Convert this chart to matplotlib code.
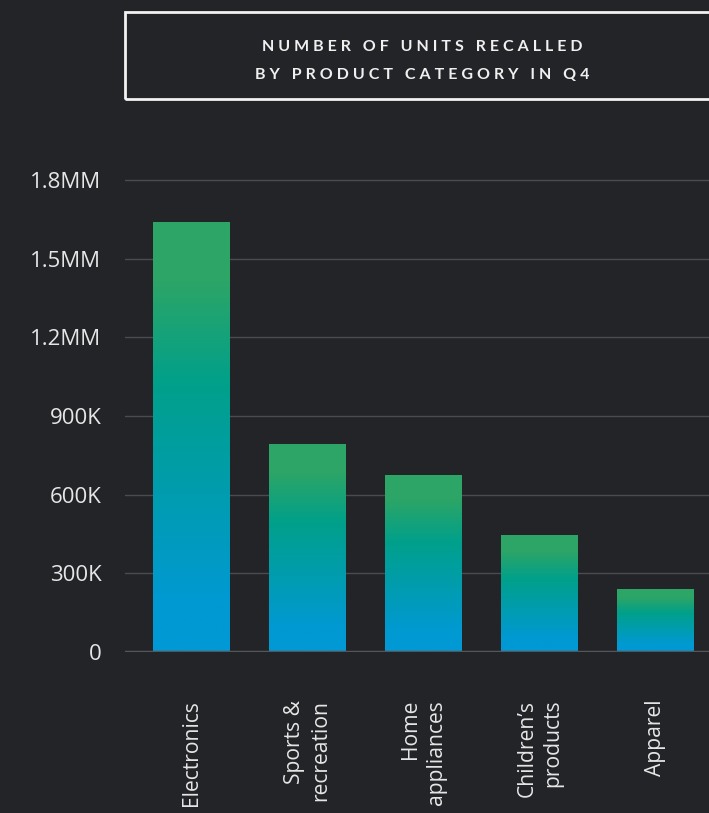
import numpy as np
import matplotlib
matplotlib.use("Agg")
import matplotlib.pyplot as plt
from matplotlib.colors import LinearSegmentedColormap
from matplotlib.patches import Rectangle
from matplotlib.ticker import FixedLocator

# units recalled per category, Q4
categories = ["Electronics", "Sports &\nrecreation", "Home\nappliances",
              "Children\u2019s\nproducts", "Apparel"]
units = [1640000, 793000, 675000, 446000, 240000]

yticks = [0, 300000, 600000, 900000, 1200000, 1500000, 1800000]
ytick_labels = ["0", "300K", "600K", "900K", "1.2MM", "1.5MM", "1.8MM"]

title_lines = ["NUMBER OF UNITS RECALLED", "BY PRODUCT CATEGORY IN Q4"]

bg = "#232428"
grid_col = "#4b4c50"
text_col = "#e6e6e6"

grad = LinearSegmentedColormap.from_list(
    "recall", [(0.0, "#0099d6"), (0.12, "#0099d2"), (0.62, "#00a08b"),
               (0.86, "#2ca567"), (1.0, "#2ea666")])

fig = plt.figure(figsize=(7.09, 8.13), dpi=100, facecolor=bg)
ax = fig.add_axes([125 / 709, 1 - 652 / 813, 1 - 125 / 709, (652 - 153.8) / 813])
ax.set_facecolor(bg)

x = np.arange(len(categories))
bars = ax.bar(x, units, width=0.66, color="none", edgecolor="none", zorder=3)

# fill each bar with a vertical gradient clipped to its outline
g = np.linspace(0, 1, 256).reshape(-1, 1)
for b in bars:
    x0, w, h = b.get_x(), b.get_width(), b.get_height()
    im = ax.imshow(g, cmap=grad, origin="lower", aspect="auto",
                   extent=[x0, x0 + w, 0, h], zorder=3, interpolation="bicubic")
    im.set_clip_path(b)

ax.set_xlim(-0.575, 4.46)
ax.set_ylim(0, 1.9e6)

ax.yaxis.set_major_locator(FixedLocator(yticks))
ax.set_yticklabels(ytick_labels)
for yv in yticks[1:]:
    ax.axhline(yv, color=grid_col, lw=1.0, zorder=1)
ax.axhline(0, color="#555659", lw=2.5, zorder=4)

for s in ax.spines.values():
    s.set_visible(False)
ax.tick_params(axis="y", length=0, pad=17, labelsize=16, labelcolor=text_col)
for lab in ax.get_yticklabels():
    lab.set_family(["Open Sans", "DejaVu Sans"])

ax.set_xticks([])
for xi, name in zip(x, categories):
    ax.text(xi, -0.096, name, transform=ax.get_xaxis_transform(), rotation=90,
            ha="center", va="top", multialignment="right", fontsize=15.2,
            color=text_col, family=["Open Sans", "DejaVu Sans"], linespacing=1.3)

# title box running off the right edge
fig.patches.append(Rectangle((125 / 709, 1 - 99 / 813), 0.9, 87 / 813,
                             transform=fig.transFigure, facecolor="none",
                             edgecolor="#f2f2f2", lw=2))
hair = "\u200a"
for i, line in enumerate(title_lines):
    spaced = (hair * 4).join(line)
    fig.text(422 / 709, 1 - (47 + 28 * i) / 813, spaced, ha="center", va="center",
             fontsize=11.5, fontweight="bold", color="#f0f0f0",
             family=["Lato", "DejaVu Sans"])

fig.savefig("out.png", dpi=100, facecolor=bg)
